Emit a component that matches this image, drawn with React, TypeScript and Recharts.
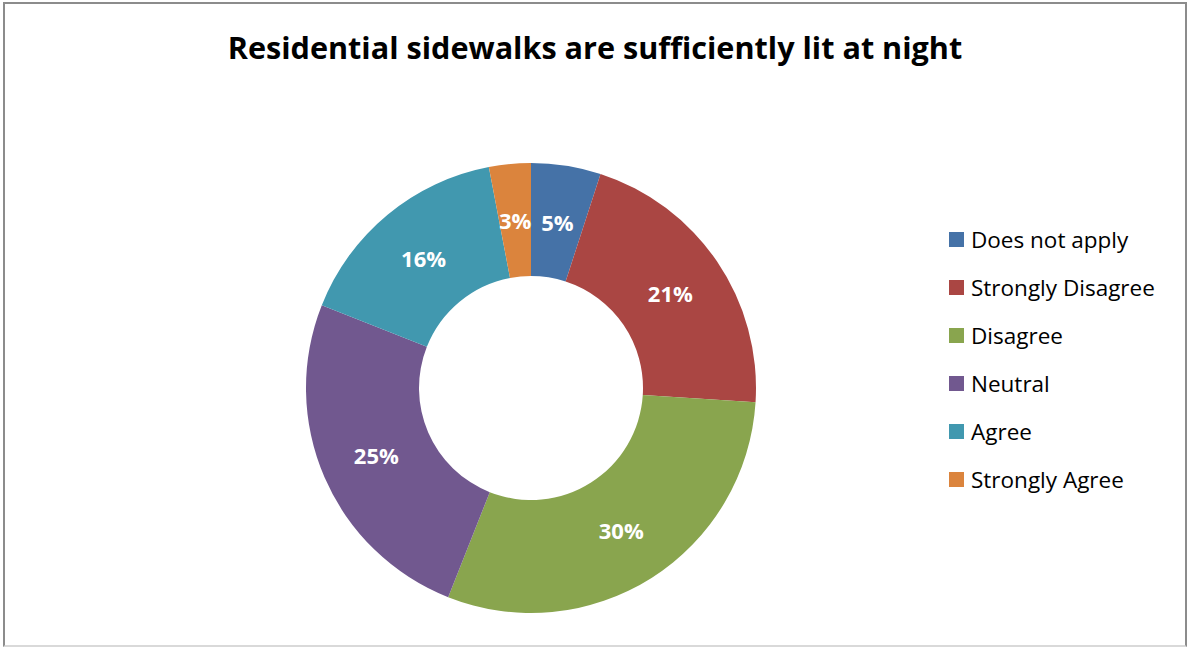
import { PieChart, Pie, Cell, Legend } from 'recharts'

const categories = ['Does not apply', 'Strongly Disagree', 'Disagree', 'Neutral', 'Agree', 'Strongly Agree']
const shares = [5, 21, 30, 25, 16, 3]
const colors = ['#4572A7', '#AA4643', '#89A54E', '#71588F', '#4198AF', '#DB843D']

const data = categories.map((name, i) => ({ name, value: shares[i] }))

const FONT = '"Open Sans", Lato, sans-serif'
const RAD = Math.PI / 180

// percentage label in the middle of the ring
const renderLabel = (p: any) => {
  const r = (p.innerRadius + p.outerRadius) / 2
  const x = p.cx + r * Math.cos(-p.midAngle * RAD)
  const y = p.cy + r * Math.sin(-p.midAngle * RAD)
  return (
    <text x={x} y={y} fill='#fff' fontFamily={FONT} fontWeight='bold' fontSize={22}
      textAnchor='middle' dominantBaseline='central'>
      {p.value}%
    </text>
  )
}

const renderLegend = () => (
  <div style={{ fontFamily: FONT, fontSize: 22.5, color: '#000' }}>
    {data.map((d, i) => (
      <div key={d.name} style={{ display: 'flex', alignItems: 'center', height: 48 }}>
        <span style={{ width: 15, height: 15, background: colors[i], marginRight: 7, flexShrink: 0 }} />
        <span style={{ whiteSpace: 'nowrap' }}>{d.name}</span>
      </div>
    ))}
  </div>
)

export default function App () {
  return (
    <div style={{ position: 'absolute', left: 0, top: 0, width: 1188, height: 647, background: '#fff' }}>
      <div style={{
        position: 'absolute', left: 3, top: 2, width: 1180, height: 641,
        border: '2px solid #8c8c8c', borderBottomColor: '#d9d9d9'
      }} />
      <div style={{
        position: 'absolute', left: 0, width: 1188, top: 26, textAlign: 'center',
        fontFamily: FONT, fontWeight: 'bold', fontSize: 30.6, color: '#000', paddingLeft: 1
      }}>
        Residential sidewalks are sufficiently lit at night
      </div>
      <PieChart width={1188} height={647}>
        <Pie
          data={data}
          dataKey='value'
          nameKey='name'
          cx={526}
          cy={383}
          innerRadius={112}
          outerRadius={225}
          startAngle={90}
          endAngle={-270}
          stroke='none'
          label={renderLabel}
          labelLine={false}
          isAnimationActive={false}
        >
          {data.map((d, i) => <Cell key={d.name} fill={colors[i]} />)}
        </Pie>
        <Legend content={renderLegend} wrapperStyle={{ position: 'absolute', left: 949, top: 215, width: 235 }} />
      </PieChart>
    </div>
  )
}
